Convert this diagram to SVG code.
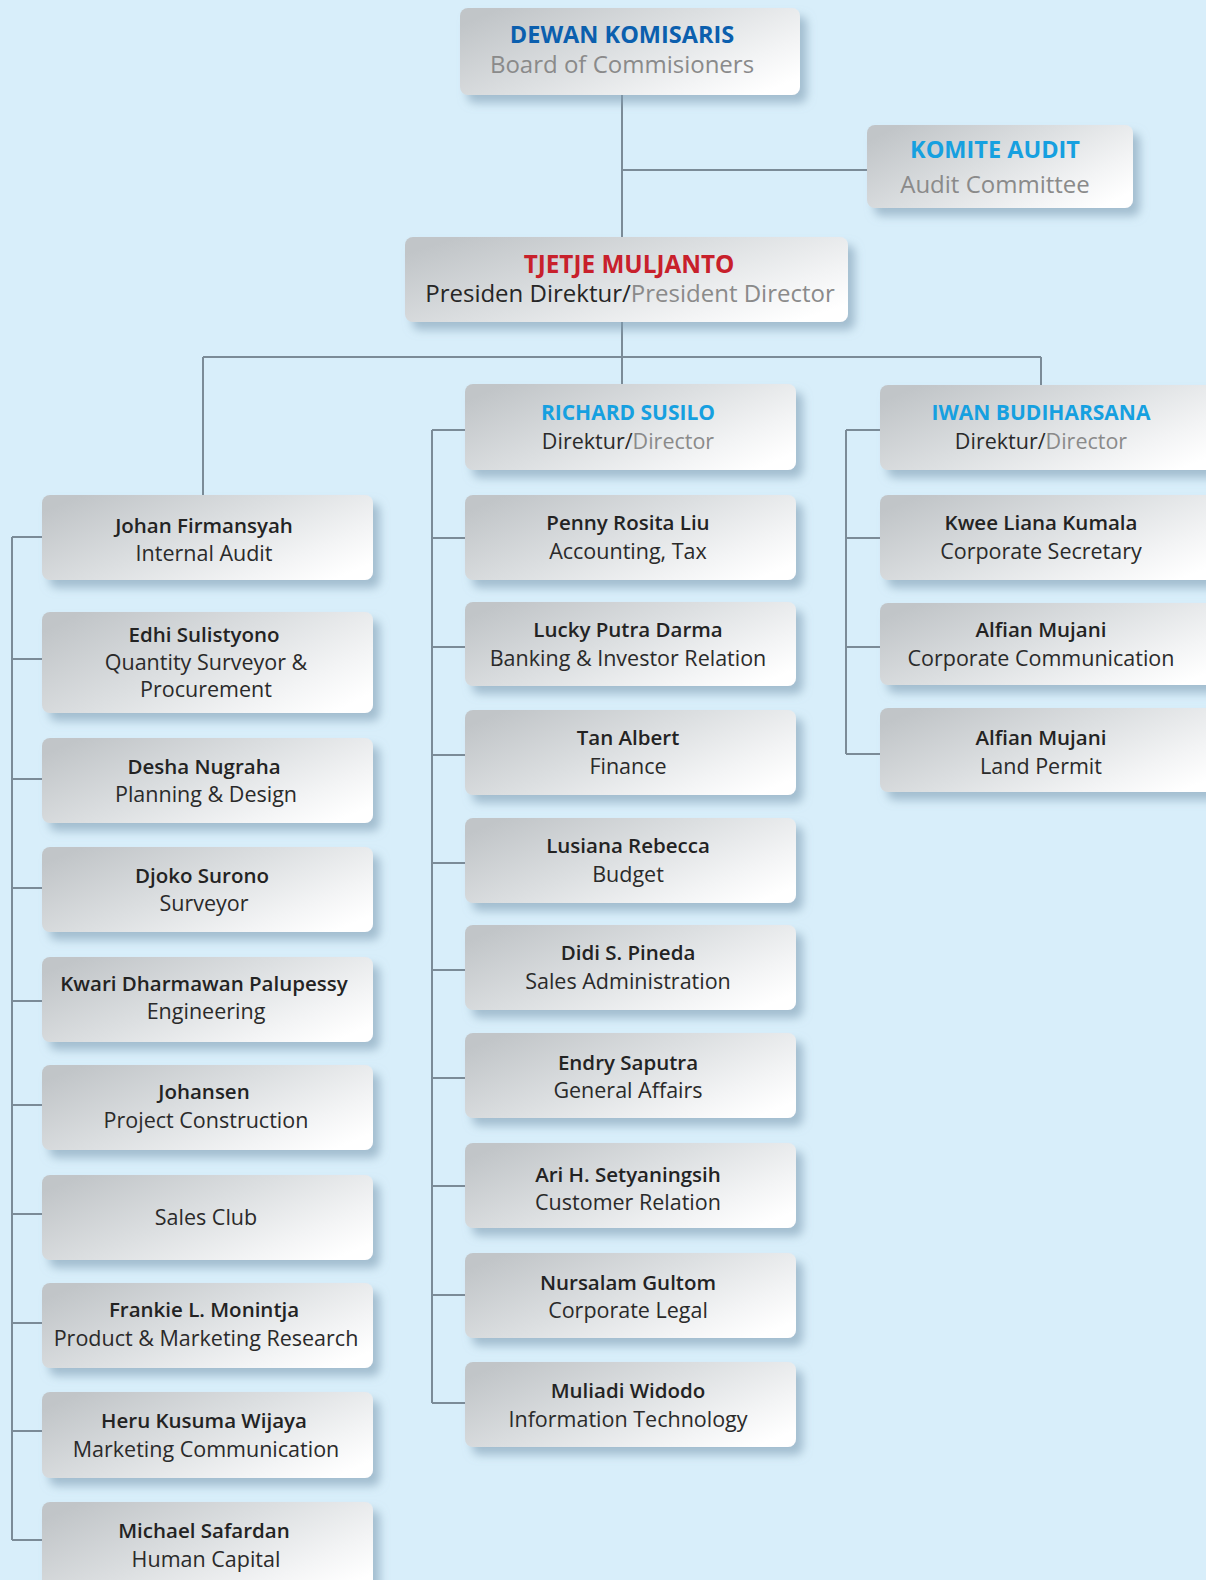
<svg xmlns="http://www.w3.org/2000/svg" width="1206" height="1580" viewBox="0 0 1206 1580">
<defs>
<linearGradient id="boxg" x1="0" y1="0.2" x2="1" y2="0.8">
<stop offset="0" stop-color="#c1c5c8"/>
<stop offset="0.45" stop-color="#dcdfe1"/>
<stop offset="0.8" stop-color="#f3f4f5"/>
<stop offset="1" stop-color="#ffffff"/>
</linearGradient>
<filter id="sh" x="-10%" y="-20%" width="125%" height="160%">
<feGaussianBlur in="SourceAlpha" stdDeviation="5"/>
<feOffset dx="7" dy="8" result="b"/>
<feFlood flood-color="#7f9db3" flood-opacity="0.6"/>
<feComposite in2="b" operator="in"/>
<feMerge><feMergeNode/><feMergeNode in="SourceGraphic"/></feMerge>
</filter>
</defs>
<style>
.box{fill:url(#boxg);filter:url(#sh)}
.ln{stroke:#7b8b97;stroke-width:2;fill:none}
text{font-family:"Open Sans","Noto Sans","Liberation Sans",sans-serif;text-anchor:middle}
.nm{font-size:20.5px;font-weight:600;fill:#232323}
.rl{font-size:21.5px;fill:#2a2a2a}
.gr{fill:#8a8a8a}
.dir{font-size:21px;font-weight:700;fill:#16a0e0}
.hd{font-size:23.5px;font-weight:700}
.hs{font-size:24px}
</style>
<rect width="1206" height="1580" fill="#d8eefa"/>

<g id="connectors">
<path class="ln" d="M622 95V237M622 170H867M622 322V384M203 357H1041M203 357V495M1041 357V385"/>
<path class="ln" d="M12 537V1540M12 537H42M12 659H42M12 779H42M12 888H42M12 1001H42M12 1105H42M12 1214H42M12 1323H42M12 1431H42M12 1540H42"/>
<path class="ln" d="M432 430V1403M432 430H465M432 538H465M432 647H465M432 755H465M432 863H465M432 970H465M432 1078H465M432 1186H465M432 1295H465M432 1403H465"/>
<path class="ln" d="M846 430V754M846 430H880M846 538H880M846 647H880M846 754H880"/>
</g>

<g id="dewan-komisaris">
<rect class="box" x="460" y="8" width="340" height="87" rx="8"/>
<text x="622" y="43" class="hd" fill="#0b5fae">DEWAN KOMISARIS</text>
<text x="622" y="73" class="hs gr">Board of Commisioners</text>
</g>

<g id="komite-audit">
<rect class="box" x="867" y="125" width="266" height="83" rx="8"/>
<text x="995" y="158" class="hd" fill="#16a0e0">KOMITE AUDIT</text>
<text x="995" y="193" class="hs gr">Audit Committee</text>
</g>

<g id="tjetje-muljanto">
<rect class="box" x="405" y="237" width="443" height="85" rx="8"/>
<text x="629" y="273" class="hd" fill="#c8202b" style="font-size:24.3px">TJETJE MULJANTO</text>
<text x="630" y="302" class="hs" fill="#262626">Presiden Direktur/<tspan class="gr">President Director</tspan></text>
</g>

<g id="richard-susilo">
<rect class="box" x="465" y="384" width="331" height="86" rx="8"/>
<text x="628" y="420" class="dir">RICHARD SUSILO</text>
<text x="628" y="449" class="rl">Direktur/<tspan class="gr">Director</tspan></text>
</g>

<g id="iwan-budiharsana">
<rect class="box" x="880" y="385" width="340" height="85" rx="8"/>
<text x="1041" y="420" class="dir">IWAN BUDIHARSANA</text>
<text x="1041" y="449" class="rl">Direktur/<tspan class="gr">Director</tspan></text>
</g>

<g id="johan-firmansyah">
<rect class="box" x="42" y="495" width="331" height="85" rx="8"/>
<text x="204" y="533" class="nm">Johan Firmansyah</text>
<text x="204" y="561" class="rl">Internal Audit</text>
</g>
<g id="edhi-sulistyono">
<rect class="box" x="42" y="612" width="331" height="101" rx="8"/>
<text x="204" y="642" class="nm">Edhi Sulistyono</text>
<text x="206" y="670" class="rl">Quantity Surveyor &amp;</text>
<text x="206" y="697" class="rl">Procurement</text>
</g>
<g id="desha-nugraha">
<rect class="box" x="42" y="738" width="331" height="85" rx="8"/>
<text x="204" y="774" class="nm">Desha Nugraha</text>
<text x="206" y="802" class="rl">Planning &amp; Design</text>
</g>
<g id="djoko-surono">
<rect class="box" x="42" y="847" width="331" height="85" rx="8"/>
<text x="202" y="883" class="nm">Djoko Surono</text>
<text x="204" y="911" class="rl">Surveyor</text>
</g>
<g id="kwari-dharmawan-palupessy">
<rect class="box" x="42" y="957" width="331" height="85" rx="8"/>
<text x="204" y="991" class="nm">Kwari Dharmawan Palupessy</text>
<text x="206" y="1019" class="rl">Engineering</text>
</g>
<g id="johansen">
<rect class="box" x="42" y="1065" width="331" height="85" rx="8"/>
<text x="204" y="1099" class="nm">Johansen</text>
<text x="206" y="1128" class="rl">Project Construction</text>
</g>
<g id="sales-club">
<rect class="box" x="42" y="1175" width="331" height="85" rx="8"/>
<text x="206" y="1225" class="rl">Sales Club</text>
</g>
<g id="frankie-monintja">
<rect class="box" x="42" y="1283" width="331" height="85" rx="8"/>
<text x="204" y="1317" class="nm">Frankie L. Monintja</text>
<text x="206" y="1346" class="rl">Product &amp; Marketing Research</text>
</g>
<g id="heru-kusuma-wijaya">
<rect class="box" x="42" y="1392" width="331" height="86" rx="8"/>
<text x="204" y="1428" class="nm">Heru Kusuma Wijaya</text>
<text x="206" y="1457" class="rl">Marketing Communication</text>
</g>
<g id="michael-safardan">
<rect class="box" x="42" y="1502" width="331" height="90" rx="8"/>
<text x="204" y="1538" class="nm">Michael Safardan</text>
<text x="206" y="1567" class="rl">Human Capital</text>
</g>

<g id="penny-rosita-liu">
<rect class="box" x="465" y="495" width="331" height="85" rx="8"/>
<text x="628" y="530" class="nm">Penny Rosita Liu</text>
<text x="628" y="559" class="rl">Accounting, Tax</text>
</g>
<g id="lucky-putra-darma">
<rect class="box" x="465" y="602" width="331" height="84" rx="8"/>
<text x="628" y="637" class="nm">Lucky Putra Darma</text>
<text x="628" y="666" class="rl">Banking &amp; Investor Relation</text>
</g>
<g id="tan-albert">
<rect class="box" x="465" y="710" width="331" height="85" rx="8"/>
<text x="628" y="745" class="nm">Tan Albert</text>
<text x="628" y="774" class="rl">Finance</text>
</g>
<g id="lusiana-rebecca">
<rect class="box" x="465" y="818" width="331" height="85" rx="8"/>
<text x="628" y="853" class="nm">Lusiana Rebecca</text>
<text x="628" y="882" class="rl">Budget</text>
</g>
<g id="didi-pineda">
<rect class="box" x="465" y="925" width="331" height="85" rx="8"/>
<text x="628" y="960" class="nm">Didi S. Pineda</text>
<text x="628" y="989" class="rl">Sales Administration</text>
</g>
<g id="endry-saputra">
<rect class="box" x="465" y="1033" width="331" height="85" rx="8"/>
<text x="628" y="1070" class="nm">Endry Saputra</text>
<text x="628" y="1098" class="rl">General Affairs</text>
</g>
<g id="ari-setyaningsih">
<rect class="box" x="465" y="1143" width="331" height="85" rx="8"/>
<text x="628" y="1182" class="nm">Ari H. Setyaningsih</text>
<text x="628" y="1210" class="rl">Customer Relation</text>
</g>
<g id="nursalam-gultom">
<rect class="box" x="465" y="1253" width="331" height="85" rx="8"/>
<text x="628" y="1290" class="nm">Nursalam Gultom</text>
<text x="628" y="1318" class="rl">Corporate Legal</text>
</g>
<g id="muliadi-widodo">
<rect class="box" x="465" y="1362" width="331" height="85" rx="8"/>
<text x="628" y="1398" class="nm">Muliadi Widodo</text>
<text x="628" y="1427" class="rl">Information Technology</text>
</g>

<g id="kwee-liana-kumala">
<rect class="box" x="880" y="495" width="340" height="85" rx="8"/>
<text x="1041" y="530" class="nm">Kwee Liana Kumala</text>
<text x="1041" y="559" class="rl">Corporate Secretary</text>
</g>
<g id="alfian-mujani-1">
<rect class="box" x="880" y="603" width="340" height="82" rx="8"/>
<text x="1041" y="637" class="nm">Alfian Mujani</text>
<text x="1041" y="666" class="rl">Corporate Communication</text>
</g>
<g id="alfian-mujani-2">
<rect class="box" x="880" y="708" width="340" height="84" rx="8"/>
<text x="1041" y="745" class="nm">Alfian Mujani</text>
<text x="1041" y="774" class="rl">Land Permit</text>
</g>
</svg>
